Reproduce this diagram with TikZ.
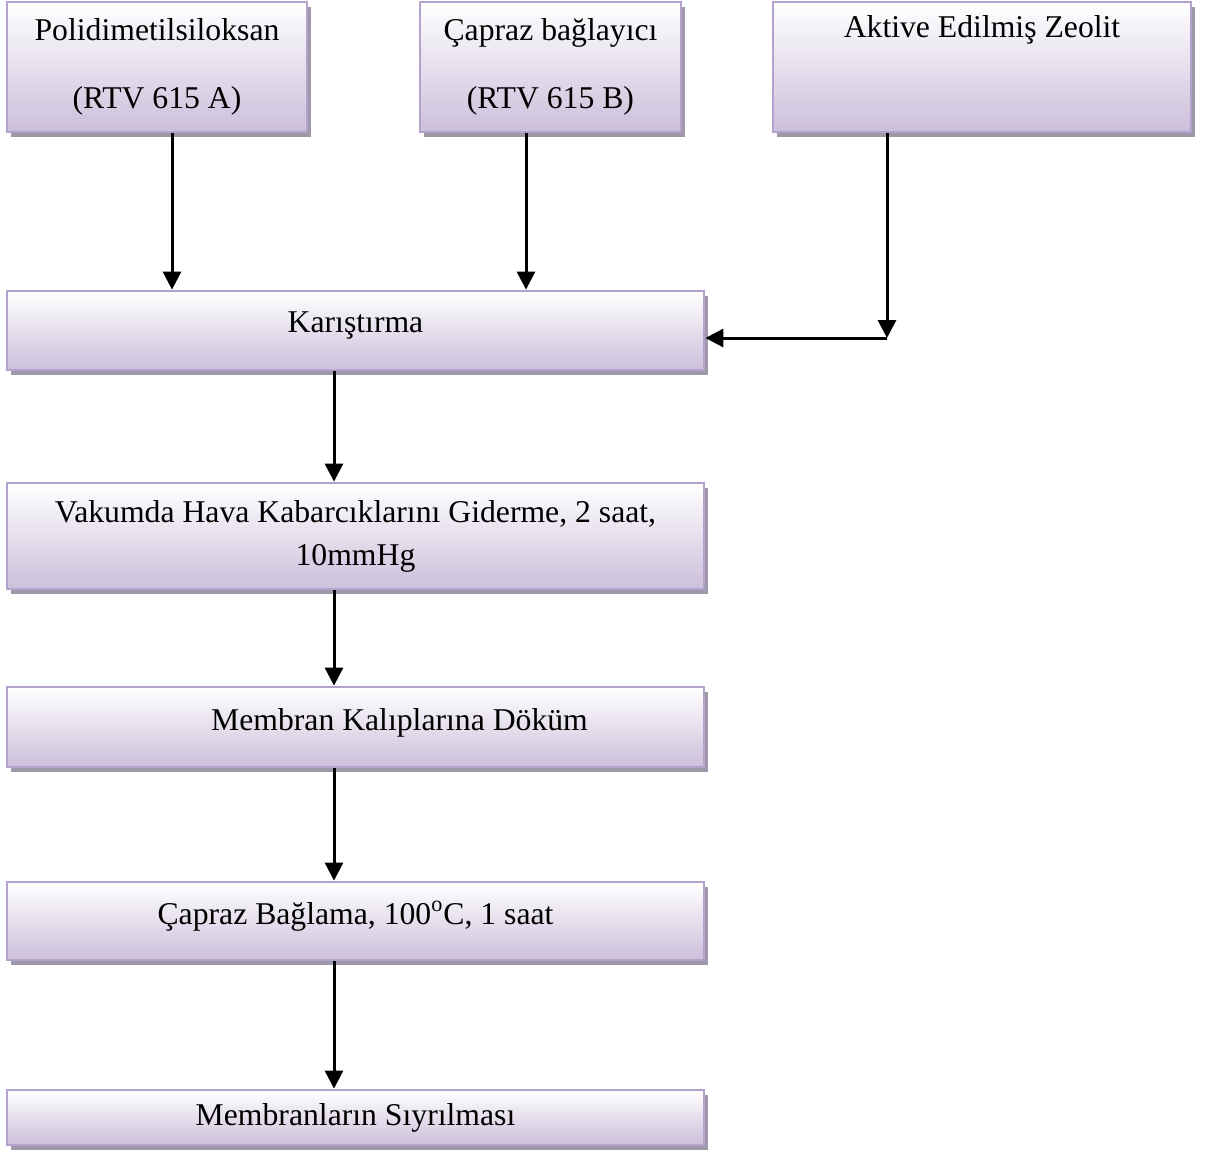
\documentclass[tikz,border=0pt]{standalone}
\usepackage{fontspec}
\setmainfont{Liberation Serif}
\usetikzlibrary{arrows.meta,shadows}

\definecolor{boxtop}{RGB}{255,255,255}
\definecolor{boxbot}{RGB}{204,191,219}
\definecolor{boxline}{RGB}{178,162,204}
\definecolor{boxshade}{RGB}{158,152,168}

\begin{document}
\begin{tikzpicture}[x=0.5pt, y=-0.5pt,
    adim/.style={draw=boxline, line width=1.4pt, top color=boxtop, bottom color=boxbot,
        inner sep=0pt, align=center, font=\fontsize{15.85}{21.5}\selectfont,
        drop shadow={shadow xshift=2.2pt, shadow yshift=-2.7pt, fill=boxshade, opacity=1}},
    ust/.style={text depth=8pt},
    ok/.style={line width=1.5pt, -{Triangle[width=9pt,length=9pt]}}]
    \useasboundingbox (0,0) rectangle (1205,1157);

    % Girdiler
    \node[adim, minimum width=150pt, minimum height=65pt] (pdms) at (157,67)
        {Polidimetilsiloksan\\[12.5pt](RTV 615 A)};
    \node[adim, minimum width=130.5pt, minimum height=65pt] (capraz) at (550.5,67)
        {Çapraz bağlayıcı\\[12.5pt](RTV 615 B)};
    \node[adim, minimum width=209pt, minimum height=65pt] (zeolit) at (982,67)
        {Aktive Edilmiş Zeolit\\[12.5pt]\strut};

    % Adimlar
    \node[adim, ust, minimum width=348.5pt, minimum height=39.5pt] (karis) at (355.5,330.5)
        {Karıştırma};
    \node[adim, minimum width=348.5pt, minimum height=53pt] (vakum) at (355.5,536)
        {Vakumda Hava Kabarcıklarını Giderme, 2 saat,\\10mmHg};
    \node[adim, ust, minimum width=348.5pt, minimum height=40pt] (dokum) at (355.5,727)
        {\hspace*{44pt}Membran Kalıplarına Döküm};
    \node[adim, ust, minimum width=348.5pt, minimum height=39pt] (bagla) at (355.5,921)
        {Çapraz Bağlama, 100\textsuperscript{o}C, 1 saat};
    \node[adim, minimum width=348.5pt, minimum height=27.5pt] (siyir) at (355.5,1117.5)
        {Membranların Sıyrılması};

    % Oklar
    \coordinate (kose) at (887,338);
    \draw[ok] ([xshift=7.5pt]pdms.south) -- ([xshift=7.5pt]pdms.south |- karis.north);
    \draw[ok] ([xshift=-12.25pt]capraz.south) -- ([xshift=-12.25pt]capraz.south |- karis.north);
    \draw[ok] (zeolit.south -| kose) -- (kose);
    \draw[ok] (kose) -- (kose -| karis.east);
    \draw[ok] ([xshift=-10.75pt]karis.south) -- ([xshift=-10.75pt]karis.south |- vakum.north);
    \draw[ok] ([xshift=-10.75pt]vakum.south) -- ([xshift=-10.75pt]vakum.south |- dokum.north);
    \draw[ok] ([xshift=-10.75pt]dokum.south) -- ([xshift=-10.75pt]dokum.south |- bagla.north);
    \draw[ok] ([xshift=-10.75pt]bagla.south) -- ([xshift=-10.75pt]bagla.south |- siyir.north);

\end{tikzpicture}
\end{document}
